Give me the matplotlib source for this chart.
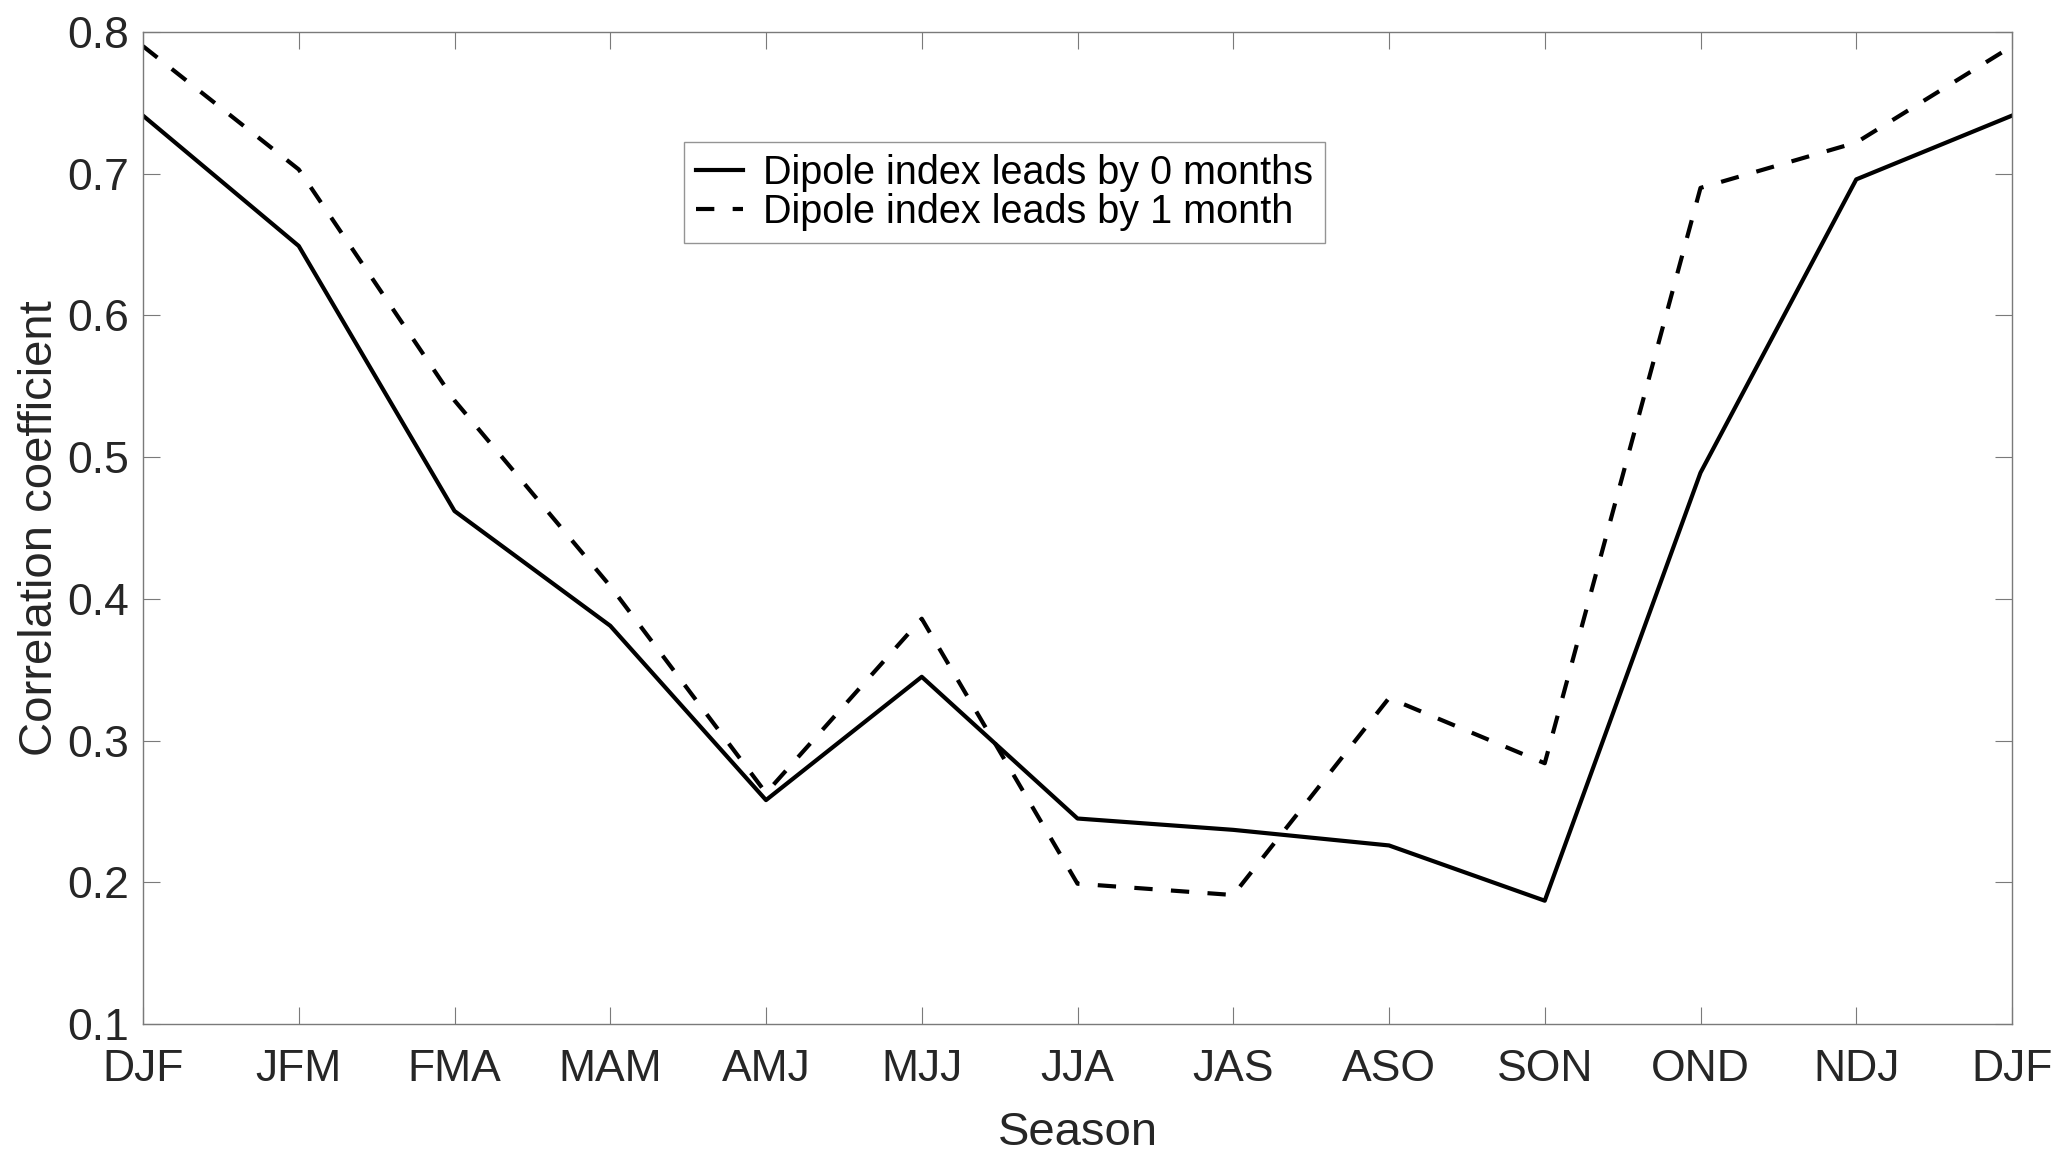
"""Seasonal correlation of the dipole index, lead 0 and lead 1."""

import matplotlib

matplotlib.use("Agg")
import matplotlib.pyplot as plt

seasons = ["DJF", "JFM", "FMA", "MAM", "AMJ", "MJJ", "JJA",
           "JAS", "ASO", "SON", "OND", "NDJ", "DJF"]
lead0 = [0.741, 0.649, 0.462, 0.381, 0.258, 0.345, 0.245,
         0.237, 0.226, 0.187, 0.489, 0.696, 0.741]
lead1 = [0.790, 0.703, 0.540, 0.409, 0.263, 0.386, 0.199,
         0.191, 0.330, 0.284, 0.690, 0.722, 0.790]
yticks = [0.1, 0.2, 0.3, 0.4, 0.5, 0.6, 0.7, 0.8]

plt.rcParams["font.family"] = ["Liberation Sans", "DejaVu Sans"]

fig = plt.figure(figsize=(20.67, 11.61), dpi=100)
# axes box in pixels: left 143, right 2012, top 32, bottom 1024
ax = fig.add_axes([143 / 2067, 1 - 1024 / 1161, 1869 / 2067, 992 / 1161])

x = list(range(len(seasons)))
ax.plot(x, lead0, color="black", lw=3.0, label="Dipole index leads by 0 months")
ax.plot(x, lead1, color="black", lw=3.0, ls=(0, (4.4, 4.4)),
        label="Dipole index leads by 1 month")

ax.set_xlim(0, len(seasons) - 1)
ax.set_ylim(0.1, 0.8)
ax.set_xticks(x)
ax.set_xticklabels(seasons)
ax.set_yticks(yticks)
ax.set_yticklabels([f"{v:g}" for v in yticks])

for s in ax.spines.values():
    s.set_color("#7a7a7a")
    s.set_linewidth(1.0)
ax.tick_params(direction="in", length=12.5, width=0.8, color="#7a7a7a",
               labelsize=32, labelcolor="#262626", top=True, right=True)
ax.tick_params(axis="x", pad=18)
ax.tick_params(axis="y", pad=10)

ax.set_xlabel("Season", fontsize=34, color="#262626", labelpad=15)
ax.set_ylabel("Correlation coefficient", fontsize=34, color="#262626", labelpad=4)

leg = ax.legend(loc="upper left", bbox_to_anchor=((684 - 143) / 1869, (1024 - 142) / 992),
                fontsize=28.5, frameon=True, fancybox=False, handlelength=1.2,
                handletextpad=0.5, borderpad=0.3, labelspacing=0.02,
                borderaxespad=0)
leg.get_frame().set_edgecolor("#7a7a7a")
leg.get_frame().set_linewidth(1.0)
for t in leg.get_texts():
    t.set_color("black")

fig.savefig("out.png", dpi=100)
plt.close(fig)
